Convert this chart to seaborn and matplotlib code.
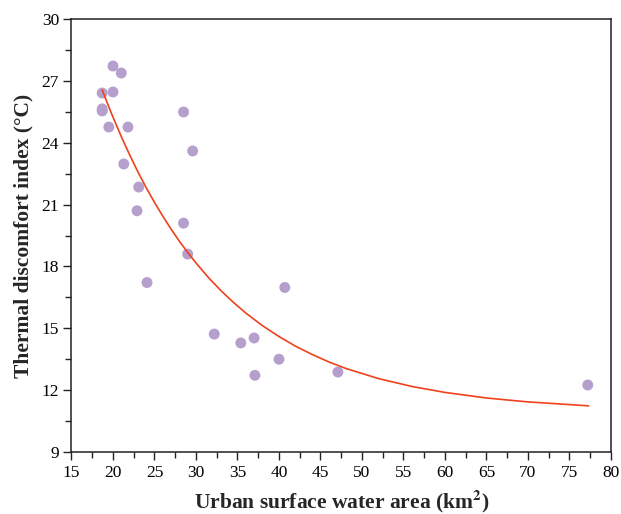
import seaborn as sns
import matplotlib.pyplot as plt
import pandas as pd
from matplotlib.ticker import MultipleLocator

# scatter points (urban surface water area in km2, thermal discomfort index in degC)
water_area = [20.0, 21.0, 18.7, 20.0, 18.7, 18.7, 19.5, 21.8, 28.5, 29.6,
              21.3, 23.1, 22.9, 28.5, 29.0, 24.1, 40.7, 32.2, 35.4, 37.0,
              37.1, 40.0, 47.1, 77.2]
discomfort = [27.72, 27.38, 26.41, 26.46, 25.64, 25.54, 24.76, 24.76, 25.49, 23.60,
              22.97, 21.85, 20.70, 20.10, 18.60, 17.22, 16.98, 14.72, 14.29, 14.53,
              12.72, 13.50, 12.88, 12.25]

# fitted curve
curve_x = [18.7, 19.3, 20, 21, 22, 23, 24, 25, 26, 27, 28, 29, 30, 31.5, 33,
           34.5, 36, 38, 40, 42, 44, 46, 48, 52, 56, 60, 65, 70, 77.3]
curve_y = [26.56, 25.94, 25.24, 24.30, 23.42, 22.59, 21.82, 21.11, 20.44, 19.81,
           19.22, 18.68, 18.17, 17.46, 16.83, 16.26, 15.74, 15.13, 14.60, 14.13,
           13.73, 13.37, 13.06, 12.56, 12.18, 11.89, 11.62, 11.43, 11.24]

df = pd.DataFrame({"area": water_area, "tdi": discomfort})
fit = pd.DataFrame({"area": curve_x, "tdi": curve_y})

sns.set_theme(style="ticks")
plt.rcParams["font.family"] = ["Liberation Serif", "DejaVu Serif"]
plt.rcParams["mathtext.fontset"] = "stix"

fig = plt.figure(figsize=(6.21, 5.14), dpi=100)
ax = fig.add_axes([0.1151, 0.1206, 0.8688, 0.8424])

sns.scatterplot(data=df, x="area", y="tdi", ax=ax, s=62, color="#b5a0cd",
                edgecolor="none", zorder=2)
sns.lineplot(data=fit, x="area", y="tdi", ax=ax, color="#f0411c", lw=1.2,
             sort=False, estimator=None, zorder=3)

ax.set_xlim(15, 80)
ax.set_ylim(9, 30)
ax.xaxis.set_major_locator(MultipleLocator(5))
ax.xaxis.set_minor_locator(MultipleLocator(2.5))
ax.yaxis.set_major_locator(MultipleLocator(3))
ax.yaxis.set_minor_locator(MultipleLocator(1.5))

ax.tick_params(which="major", direction="out", length=6, width=1,
               labelsize=12.5, colors="#222222", labelcolor="black", pad=3)
ax.tick_params(which="minor", direction="out", length=4, width=1, colors="#222222")
for sp in ax.spines.values():
    sp.set_visible(True)
    sp.set_linewidth(1.1)
    sp.set_color("#222222")

ax.set_xlabel("Urban surface water area (km$^\\mathbf{2}$)", fontsize=15.5,
              fontweight="bold", labelpad=5)
ax.set_ylabel("Thermal discomfort index (°C)", fontsize=15.5,
              fontweight="bold", labelpad=6)

fig.savefig("out.png", dpi=100)
